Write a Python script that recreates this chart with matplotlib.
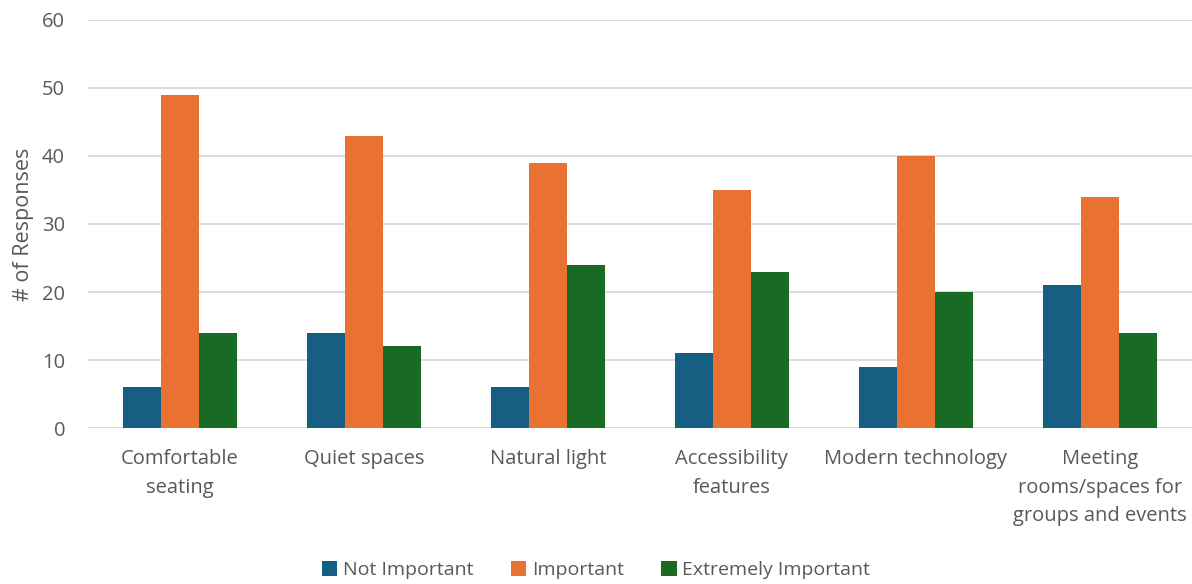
import matplotlib.pyplot as plt
import numpy as np

plt.rcParams['font.family'] = ['Open Sans', 'DejaVu Sans']

categories = ['Comfortable\nseating', 'Quiet spaces', 'Natural light',
              'Accessibility\nfeatures', 'Modern technology',
              'Meeting\nrooms/spaces for\ngroups and events']
not_important = [6, 14, 6, 11, 9, 21]
important = [49, 43, 39, 35, 40, 34]
extremely_important = [14, 12, 24, 23, 20, 14]

series = [('Not Important', not_important, '#156082'),
          ('Important', important, '#E97132'),
          ('Extremely Important', extremely_important, '#196B24')]

fig = plt.figure(figsize=(11.92, 5.84), dpi=100)
ax = fig.add_axes([0.0738, 0.267, 0.926, 0.699])

x = np.arange(len(categories))
w = 0.207
for i, (name, vals, col) in enumerate(series):
    ax.bar(x + (i - 1) * w, vals, w, color=col, label=name, zorder=3)

ax.set_xlim(-0.5, len(categories) - 0.5)
ax.set_ylim(0, 60)
ax.set_yticks(range(0, 61, 10))
ax.grid(axis='y', color='#d9d9d9', linewidth=1.3, zorder=0)
for s in ax.spines.values():
    s.set_visible(False)
ax.tick_params(length=0, colors='#595959', labelsize=14.5)
ax.tick_params(axis='y', pad=16.5)
ax.tick_params(axis='x', pad=15)
ax.set_xticks(x)
ax.set_xticklabels(categories, linespacing=1.58)
ax.set_ylabel('# of Responses', fontsize=15.5, color='#595959', labelpad=6)

fig.legend(loc='lower center', bbox_to_anchor=(0.5, -0.022), ncol=3,
           frameon=False, fontsize=14, labelcolor='#595959',
           handlelength=0.8, handleheight=0.8, handletextpad=0.3,
           columnspacing=1.9)

fig.savefig('out.png', dpi=100)
